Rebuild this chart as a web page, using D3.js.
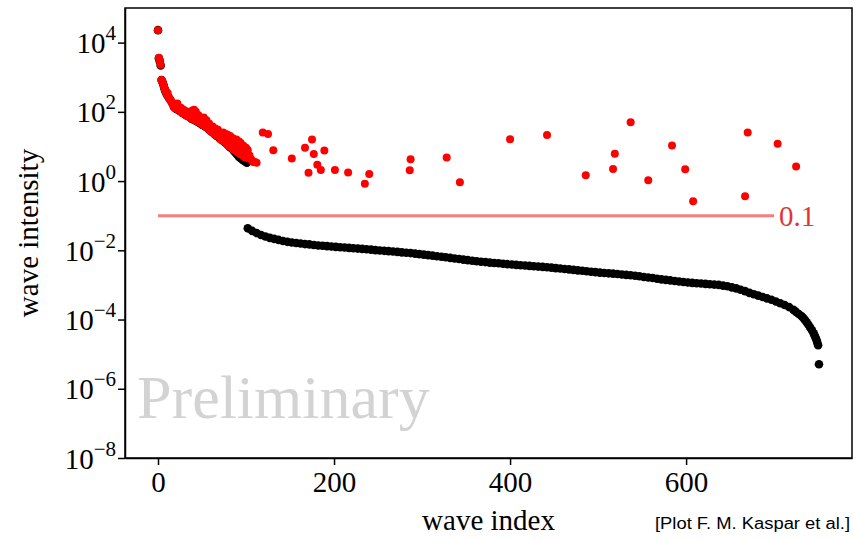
<!DOCTYPE html>
<html>
<head>
<meta charset="utf-8">
<script src="https://cdnjs.cloudflare.com/ajax/libs/d3/7.8.5/d3.min.js"></script>
<style>
  body { margin: 0; background: #fff; }
  svg { display: block; }
</style>
</head>
<body>
<div id="chart"></div>
<script>
// y tick exponents and x tick values
const yTickExp = [-8, -6, -4, -2, 0, 2, 4];
const xTicks = [0, 200, 400, 600];

// black series: [wave index, log10 intensity], sorted intensities
const blackHead = [[0,4.36],[1,3.55],[2,3.46],[3,3.34],[4,2.92],[5,2.86],[6,2.79],[7,2.70],[8,2.62],[9,2.57],[10,2.50],
  [12,2.42],[14,2.34],[16,2.26],[18,2.15],[20,2.10],[22,2.07],[24,2.05],[26,2.01],[28,1.97],[30,1.94],[32,1.90],
  [34,1.88],[36,1.85],[38,1.80],[40,1.78],[42,1.76],[44,1.73],[46,1.70],[48,1.67],[50,1.63],[52,1.61],[54,1.57],
  [56,1.54],[58,1.49],[60,1.45],[62,1.41],[64,1.36],[66,1.32],[68,1.29],[70,1.24],[72,1.20],[74,1.16],[76,1.12],
  [78,1.08],[80,1.02],[82,0.98],[84,0.94],[86,0.88],[88,0.82],[90,0.76],[92,0.70],[94,0.66],[96,0.62],[98,0.58],
  [100,0.55],[101,0.53]];
const blackTail = [[102,-1.365],[107,-1.44],[112,-1.50],[117,-1.557],[122,-1.60],[127,-1.64],[132,-1.67],[137,-1.70],
  [142,-1.73],[147,-1.755],[152,-1.775],[157,-1.79],[162,-1.805],[167,-1.82],[172,-1.83],[177,-1.845],[182,-1.86],
  [187,-1.87],[192,-1.88],[197,-1.89],[202,-1.90],[207,-1.91],[212,-1.92],[217,-1.93],[222,-1.94],[227,-1.95],
  [232,-1.96],[237,-1.97],[242,-1.98],[247,-1.995],[252,-2.005],[257,-2.015],[262,-2.025],[267,-2.035],[272,-2.045],
  [277,-2.06],[282,-2.07],[287,-2.08],[292,-2.095],[297,-2.11],[302,-2.125],[307,-2.14],[312,-2.155],[317,-2.17],
  [322,-2.185],[327,-2.20],[332,-2.22],[337,-2.235],[342,-2.25],[347,-2.27],[352,-2.285],[357,-2.30],[362,-2.315],
  [367,-2.33],[372,-2.34],[377,-2.355],[382,-2.365],[387,-2.375],[392,-2.39],[397,-2.40],[402,-2.41],[407,-2.42],
  [412,-2.43],[417,-2.44],[422,-2.45],[427,-2.46],[432,-2.47],[437,-2.48],[442,-2.49],[447,-2.50],[452,-2.515],
  [457,-2.525],[462,-2.54],[467,-2.55],[472,-2.565],[477,-2.58],[482,-2.59],[487,-2.605],[492,-2.62],[497,-2.63],
  [502,-2.645],[507,-2.655],[512,-2.665],[517,-2.675],[522,-2.685],[527,-2.70],[532,-2.71],[537,-2.72],[542,-2.735],
  [547,-2.75],[552,-2.77],[557,-2.785],[562,-2.80],[567,-2.82],[572,-2.84],[577,-2.855],[582,-2.87],[587,-2.885],
  [592,-2.90],[597,-2.915],[602,-2.93],[607,-2.94],[612,-2.95],[617,-2.96],[622,-2.97],[627,-2.98],[632,-2.99],
  [637,-3.00],[642,-3.02],[647,-3.04],[652,-3.07],[657,-3.10],[662,-3.14],[667,-3.18],[672,-3.23],[677,-3.27],
  [682,-3.31],[687,-3.35],[692,-3.39],[697,-3.43],[702,-3.48],[707,-3.53],[712,-3.58],[717,-3.64],[722,-3.72],
  [725,-3.78],[728,-3.84],[731,-3.90],[733,-3.95],[735,-4.01],[737,-4.08],[739,-4.15],[741,-4.23],[743,-4.31],
  [745,-4.40],[746,-4.46],[747,-4.52],[748,-4.58],[749,-4.66],[750,-4.74],[751,-5.29]];

// red series: [wave index, log10 intensity]
const redCloud = [[0,4.36],[1,3.56],[2,3.48],[3,3.36],[4,2.92],[5,2.88],[6,2.80],[7,2.70],[8,2.62],[9,2.60],[10,2.50],
  [11,2.54],[12,2.42],[13,2.38],[14,2.36],[15,2.30],[16,2.26],[17,2.22],[18,2.14],[19,2.20],[20,2.10],[21,2.14],
  [22,2.24],[23,2.07],[24,2.10],[25,2.01],[26,2.12],[27,2.00],[28,1.96],[29,2.06],[30,1.96],[31,1.92],[32,2.02],
  [33,1.88],[34,1.96],[35,1.86],[36,1.92],[37,1.88],[38,1.80],[39,2.04],[40,1.86],[41,2.06],[42,1.76],[43,2.00],
  [44,1.84],[45,1.72],[46,1.90],[47,1.78],[48,1.68],[49,1.82],[50,1.74],[51,1.62],[52,1.84],[53,1.70],[54,1.58],
  [55,1.76],[56,1.62],[57,1.52],[58,1.66],[59,1.46],[60,1.56],[61,1.42],[62,1.58],[63,1.48],[64,1.36],[65,1.52],
  [66,1.32],[67,1.44],[68,1.48],[69,1.28],[70,1.40],[71,1.20],[72,1.34],[73,1.22],[74,1.40],[75,1.14],[76,1.30],
  [77,1.36],[78,1.08],[79,1.34],[80,1.02],[81,1.24],[82,1.30],[83,0.98],[84,1.16],[85,1.24],[86,0.90],[87,1.12],
  [88,0.98],[89,1.20],[90,0.84],[91,1.06],[92,1.14],[93,0.78],[94,1.10],[95,0.96],[96,0.74],[97,1.02],[98,0.90],
  [99,0.68],[100,0.96],[101,0.80],[102,0.90],[103,0.66],[104,0.74],[106,0.62],[108,0.56],[109,0.55],[110,0.55],
  [112,0.53]];
const redScatter = [[119,1.40],[125,1.36],[131,0.89],[152,0.65],[167,0.965],[171,0.24],[175,1.20],[177,0.78],
  [181,0.47],[185,0.32],[189,0.88],[201,0.32],[216,0.25],[235,-0.08],[240,0.205],[286,0.31],[287,0.63],[328,0.68],
  [343,-0.035],[400,1.21],[442,1.33],[486,0.17],[517,0.35],[519,0.79],[537,1.70],[557,0.023],[584,1.03],[599,0.34],
  [608,-0.58],[667,-0.44],[670,1.40],[704,1.08],[725,0.42]];

// threshold line
const thresholdValue = 0.1;
const thresholdSpan = [0, 700];

const width = 854, height = 541;
const plot = { left: 125, right: 852, top: 8, bottom: 458 };

const svg = d3.select("#chart").append("svg")
    .attr("width", width)
    .attr("height", height)
    .style("font-family", "'Liberation Serif', 'DejaVu Serif', serif");

svg.append("rect").attr("width", width).attr("height", height).attr("fill", "#fff");

const x = d3.scaleLinear().domain([-37.5, 788.5]).range([plot.left, plot.right]);
const y = d3.scaleLog().domain([1e-8, 1e5]).range([plot.bottom, plot.top]);

// watermark
svg.append("text")
    .attr("x", 137)
    .attr("y", 418)
    .style("font-size", "62px")
    .attr("fill", "#d3d3d3")
    .text("Preliminary");

// threshold line + label
svg.append("line")
    .attr("x1", x(thresholdSpan[0]))
    .attr("x2", x(thresholdSpan[1]))
    .attr("y1", y(thresholdValue))
    .attr("y2", y(thresholdValue))
    .attr("stroke", "#f47f7f")
    .attr("stroke-width", 3);

svg.append("text")
    .attr("x", x(thresholdSpan[1]) + 5)
    .attr("y", y(thresholdValue))
    .attr("dy", "0.35em")
    .attr("fill", "#e03535")
    .style("font-size", "29px")
    .text(String(thresholdValue));

const pts = arr => arr.map(([i, e]) => ({ i, v: Math.pow(10, e) }));

svg.append("g").selectAll("circle")
    .data(pts(blackHead.concat(blackTail)))
    .enter().append("circle")
    .attr("cx", d => x(d.i))
    .attr("cy", d => y(d.v))
    .attr("r", 4.3)
    .attr("fill", "#000");

svg.append("g").selectAll("circle")
    .data(pts(redCloud.concat(redScatter)))
    .enter().append("circle")
    .attr("cx", d => x(d.i))
    .attr("cy", d => y(d.v))
    .attr("r", 4)
    .attr("fill", "#ff0000");

// frame
svg.append("rect")
    .attr("x", plot.left)
    .attr("y", plot.top)
    .attr("width", plot.right - plot.left)
    .attr("height", plot.bottom - plot.top)
    .attr("fill", "none")
    .attr("stroke", "#000")
    .attr("stroke-width", 1.5);

// axes
const xAxis = svg.append("g")
    .attr("transform", `translate(0,${plot.bottom})`)
    .call(d3.axisBottom(x).tickValues(xTicks).tickSize(7).tickSizeOuter(0).tickPadding(6));
xAxis.selectAll(".tick text")
    .style("font-size", "29px")
    .style("font-family", "'Liberation Serif', serif")
    .attr("fill", "#000");

const yAxis = svg.append("g")
    .attr("transform", `translate(${plot.left},0)`)
    .call(d3.axisLeft(y).tickValues(yTickExp.map(e => Math.pow(10, e))).tickSize(7).tickSizeOuter(0).tickFormat(""));
yAxis.selectAll(".tick").each(function (d) {
    const e = Math.round(Math.log10(d));
    const t = d3.select(this).select("text")
        .attr("x", -9)
        .attr("dy", null)
        .attr("y", 10)
        .attr("text-anchor", "end")
        .attr("fill", "#000")
        .style("font-family", "'Liberation Serif', serif");
    t.append("tspan").style("font-size", "29px").text("10");
    t.append("tspan").style("font-size", "21px").attr("dy", -13)
        .text(e < 0 ? "\u2212" + (-e) : String(e));
});
svg.selectAll(".domain").attr("stroke-width", 1.5);
svg.selectAll(".tick line").attr("stroke-width", 1.5);

// axis titles
svg.append("text")
    .attr("x", (plot.left + plot.right) / 2)
    .attr("y", 530)
    .attr("text-anchor", "middle")
    .style("font-size", "29px")
    .text("wave index");

svg.append("text")
    .attr("transform", `translate(38,${(plot.top + plot.bottom) / 2}) rotate(-90)`)
    .attr("text-anchor", "middle")
    .style("font-size", "29px")
    .text("wave intensity");

// credit
svg.append("text")
    .attr("x", 850)
    .attr("y", 529)
    .attr("text-anchor", "end")
    .style("font-family", "'Liberation Sans', Arial, sans-serif")
    .style("font-size", "16px")
    .attr("textLength", 195)
    .attr("lengthAdjust", "spacingAndGlyphs")
    .text("[Plot F. M. Kaspar et al.]");
</script>
</body>
</html>
